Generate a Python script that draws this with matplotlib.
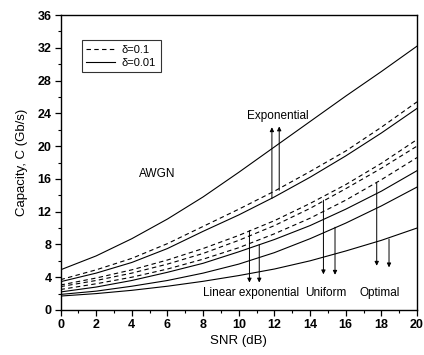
import matplotlib
matplotlib.use("Agg")
import matplotlib.pyplot as plt
from matplotlib.ticker import MultipleLocator

plt.rcParams['font.family'] = ['Liberation Sans', 'DejaVu Sans']

snr = [0, 2, 4, 6, 8, 10, 12, 14, 16, 18, 20]
awgn = [4.9, 6.6, 8.7, 11.1, 13.8, 16.8, 19.9, 23.0, 26.1, 29.1, 32.2]
exp_01 = [3.7, 4.9, 6.3, 8.1, 10.2, 12.3, 14.5, 16.9, 19.4, 22.3, 25.4]
exp_001 = [3.45, 4.5, 5.8, 7.5, 9.6, 11.6, 13.8, 16.2, 18.8, 21.6, 24.6]
linexp_01 = [3.05, 3.9, 4.9, 6.1, 7.5, 9.1, 10.9, 13.0, 15.3, 17.9, 20.8]
unif_01 = [2.85, 3.6, 4.5, 5.6, 6.9, 8.5, 10.3, 12.4, 14.8, 17.3, 20.0]
opt_01 = [2.5, 3.2, 4.0, 5.0, 6.2, 7.6, 9.3, 11.2, 13.4, 15.9, 18.6]
linexp_001 = [2.2, 2.8, 3.6, 4.6, 5.7, 7.1, 8.6, 10.3, 12.3, 14.5, 17.0]
unif_001 = [1.9, 2.3, 2.9, 3.6, 4.5, 5.6, 7.0, 8.7, 10.6, 12.7, 15.0]
opt_001 = [1.7, 2.0, 2.4, 2.9, 3.5, 4.2, 5.0, 6.0, 7.2, 8.5, 10.0]

legend_labels = ["δ=0.1", "δ=0.01"]

fig = plt.figure(figsize=(4.24, 3.55), dpi=100)
ax = fig.add_axes([0.1427, 0.1268, 0.8408, 0.8309])

lw = 0.8
dash = (0, (4, 3))
ax.plot(snr, awgn, color='black', lw=lw)
l1, = ax.plot(snr, exp_01, color='black', lw=lw, linestyle=dash)
l2, = ax.plot(snr, exp_001, color='black', lw=lw)
for s in (linexp_01, unif_01, opt_01):
    ax.plot(snr, s, color='black', lw=lw, linestyle=dash)
for s in (linexp_001, unif_001, opt_001):
    ax.plot(snr, s, color='black', lw=lw)

arrow = dict(arrowstyle='-|>', lw=0.7, color='black', mutation_scale=6,
             shrinkA=0, shrinkB=0)
# Exponential (upward)
ax.annotate('', xy=(11.86, 22.3), xytext=(11.86, 13.6), arrowprops=arrow)
ax.annotate('', xy=(12.27, 22.4), xytext=(12.27, 14.6), arrowprops=arrow)
# Linear exponential
ax.annotate('', xy=(10.6, 3.35), xytext=(10.6, 9.7), arrowprops=arrow)
ax.annotate('', xy=(11.15, 3.35), xytext=(11.15, 8.0), arrowprops=arrow)
# Uniform
ax.annotate('', xy=(14.75, 4.35), xytext=(14.75, 13.4), arrowprops=arrow)
ax.annotate('', xy=(15.4, 4.3), xytext=(15.4, 10.1), arrowprops=arrow)
# Optimal
ax.annotate('', xy=(17.74, 5.4), xytext=(17.74, 15.5), arrowprops=arrow)
ax.annotate('', xy=(18.43, 5.2), xytext=(18.43, 8.65), arrowprops=arrow)

tfs = 8.5
ax.text(12.2, 23.7, 'Exponential', ha='center', va='center', fontsize=tfs)
ax.text(5.45, 16.6, 'AWGN', ha='center', va='center', fontsize=tfs)
ax.text(10.7, 2.1, 'Linear exponential', ha='center', va='center', fontsize=tfs)
ax.text(14.9, 2.1, 'Uniform', ha='center', va='center', fontsize=tfs)
ax.text(17.9, 2.1, 'Optimal', ha='center', va='center', fontsize=tfs)

ax.set_xlim(0, 20)
ax.set_ylim(0, 36)
ax.xaxis.set_major_locator(MultipleLocator(2))
ax.xaxis.set_minor_locator(MultipleLocator(1))
ax.yaxis.set_major_locator(MultipleLocator(4))
ax.yaxis.set_minor_locator(MultipleLocator(2))
ax.tick_params(which='major', direction='out', length=4, width=0.9,
               labelsize=9, pad=2.5)
ax.tick_params(which='minor', direction='out', length=2, width=0.8)
for lab in ax.get_xticklabels() + ax.get_yticklabels():
    lab.set_fontweight('bold')
for sp in ax.spines.values():
    sp.set_linewidth(1.0)

ax.set_xlabel('SNR (dB)', fontsize=9.5, labelpad=3)
ax.set_ylabel('Capacity, C (Gb/s)', fontsize=9.5, labelpad=7)

leg = ax.legend([l1, l2], legend_labels, loc='upper left',
                bbox_to_anchor=(0.06, 0.915), fontsize=8, frameon=True,
                fancybox=False, edgecolor='black', handlelength=2.6,
                borderpad=0.4, labelspacing=0.3, handletextpad=0.6,
                borderaxespad=0)
leg.get_frame().set_linewidth(0.8)

fig.savefig('out.png', dpi=100)
